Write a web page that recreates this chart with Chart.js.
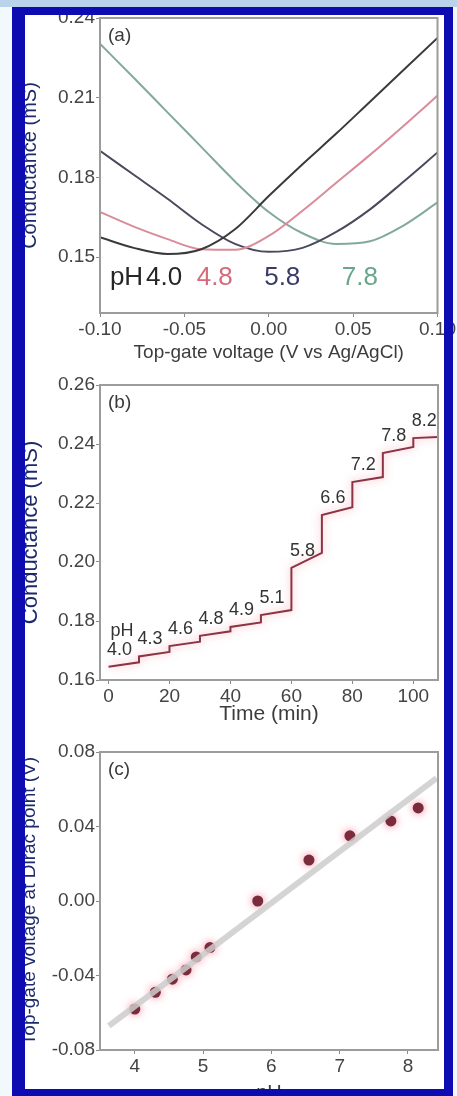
<!DOCTYPE html>
<html>
<head>
<meta charset="utf-8">
<script src="https://cdn.jsdelivr.net/npm/chart.js@4/dist/chart.umd.min.js"></script>
<style>
  html, body { margin: 0; padding: 0; }
  body { width: 457px; height: 1096px; position: relative; overflow: hidden; background: #f2f9fd; }
  #strip { position: absolute; left: 0; top: 0; width: 457px; height: 7px; background: #bad3ea; }
  #sheet { position: absolute; left: 12px; top: 7px; width: 441px; height: 1089px; background: #fff; }
  #edge { position: absolute; left: 12px; top: 7px; width: 441px; height: 1089px; box-sizing: border-box;
          border: solid #0c0cb2; border-width: 8px 9px 7px 13px; pointer-events: none; }
  canvas { position: absolute; left: 0; }
</style>
</head>
<body>
<div id="strip"></div>
<div id="sheet"></div>
<canvas id="chart-a" width="457" height="362" style="top:0"></canvas>
<canvas id="chart-b" width="457" height="366" style="top:362px"></canvas>
<canvas id="chart-c" width="457" height="375" style="top:728px"></canvas>
<div id="edge"></div>
<script>
// (a) conductance vs top-gate voltage, one curve per pH
const gateV = [-0.10, -0.08, -0.06, -0.04, -0.02, 0.00, 0.02, 0.04, 0.06, 0.08, 0.10];
const gPH40 = [0.1575, 0.1535, 0.1512, 0.1530, 0.1605, 0.1730, 0.1850, 0.1965, 0.2085, 0.2205, 0.2325];
const gPH48 = [0.1670, 0.1615, 0.1568, 0.1530, 0.1528, 0.1580, 0.1675, 0.1780, 0.1885, 0.1995, 0.2108];
const gPH58 = [0.1900, 0.1810, 0.1720, 0.1625, 0.1550, 0.1520, 0.1535, 0.1595, 0.1680, 0.1785, 0.1894];
const gPH78 = [0.2303, 0.2175, 0.2045, 0.1915, 0.1785, 0.1670, 0.1590, 0.1550, 0.1560, 0.1620, 0.1706];
const curvePH = ['4.0', '4.8', '5.8', '7.8'];
const ticksVa = [-0.10, -0.05, 0.00, 0.05, 0.10];
const ticksGa = [0.15, 0.18, 0.21, 0.24];

// (b) conductance while stepping the pH, one plateau per step
const stepPH = ['4.0', '4.3', '4.6', '4.8', '4.9', '5.1', '5.8', '6.6', '7.2', '7.8', '8.2'];
const stepStart = [0, 10, 20, 30, 40, 50, 60, 70, 80, 90, 100];
const stepEnd = [10, 20, 30, 40, 50, 60, 70, 80, 90, 100, 108];
const gStart = [0.1645, 0.1680, 0.1715, 0.1750, 0.1780, 0.1820, 0.1980, 0.2159, 0.2271, 0.2369, 0.2420];
const gEnd = [0.1660, 0.1695, 0.1730, 0.1765, 0.1795, 0.1837, 0.2031, 0.2186, 0.2288, 0.2390, 0.2424];
const ticksT = [0, 20, 40, 60, 80, 100];
const ticksGb = [0.16, 0.18, 0.20, 0.22, 0.24, 0.26];

// (c) top-gate voltage at the conductance minimum vs pH
const phPoints = [4.0, 4.3, 4.55, 4.75, 4.9, 5.1, 5.8, 6.55, 7.15, 7.75, 8.15];
const minV = [-0.058, -0.049, -0.042, -0.037, -0.030, -0.025, 0.000, 0.022, 0.035, 0.043, 0.050];
const fitPH = [3.62, 8.42];
const fitV = [-0.067, 0.066];
const ticksPH = [4, 5, 6, 7, 8];
const ticksVc = [-0.08, -0.04, 0.00, 0.04, 0.08];

const FONT = "'Liberation Sans', Arial, sans-serif";
const pts = (xs, ys) => xs.map((x, i) => ({ x: x, y: ys[i] }));

// label positions for panel (a), in volts
const phLabelAt = [-0.062, -0.032, 0.008, 0.054];
const phLabelColor = ['#262626', '#d46a7c', '#3b3b68', '#6aa68c'];

function axisX(min, max, tickVals, fmt, title, height, titlePad, titleSize) {
  return {
    type: 'linear', min: min, max: max,
    afterBuildTicks: s => { s.ticks = tickVals.map(v => ({ value: v })); },
    afterFit: s => { s.height = height; },
    ticks: { callback: fmt, color: '#444', font: { family: FONT, size: 19 }, padding: 1, maxRotation: 0, autoSkip: false },
    grid: { drawOnChartArea: false, tickLength: 4, color: '#8a8a8a' },
    border: { color: '#999', width: 2 },
    title: { display: true, text: title, color: '#3c3c3c', font: { family: FONT, size: titleSize, lineHeight: 1 },
             padding: { top: 0, bottom: titlePad } }
  };
}

function axisY(min, max, tickVals, fmt, title, titleSize, titleColor) {
  return {
    type: 'linear', min: min, max: max,
    afterBuildTicks: s => { s.ticks = tickVals.map(v => ({ value: v })); },
    afterFit: s => { s.width = 100; },
    ticks: { callback: fmt, color: '#444', font: { family: FONT, size: 19 }, padding: 1, autoSkip: false },
    grid: { drawOnChartArea: false, tickLength: 4, color: '#8a8a8a' },
    border: { color: '#999', width: 2 },
    title: { display: true, text: title, color: titleColor, font: { family: FONT, size: titleSize, lineHeight: 1 },
             padding: { top: 20, bottom: 0 } }
  };
}

// soft halo behind a dataset
const glow = {
  id: 'glow',
  beforeDatasetDraw(chart, args) {
    const ds = chart.data.datasets[args.index];
    if (!ds.glow) return;
    chart.ctx.save();
    chart.ctx.shadowColor = ds.glow;
    chart.ctx.shadowBlur = 8;
  },
  afterDatasetDraw(chart, args) {
    if (chart.data.datasets[args.index].glow) chart.ctx.restore();
  }
};

// box around the plot area plus the panel letter
const frame = {
  id: 'frame',
  afterDraw(chart, args, opts) {
    const { ctx, chartArea: a } = chart;
    ctx.save();
    ctx.strokeStyle = '#9c9c9c';
    ctx.lineWidth = 2;
    ctx.strokeRect(a.left, a.top, a.right - a.left, a.bottom - a.top);
    ctx.fillStyle = '#3a3a3a';
    ctx.font = '19px ' + FONT;
    ctx.textBaseline = 'middle';
    ctx.fillText(opts.tag, a.left + 8, a.top + 18);
    ctx.restore();
  }
};

const base = (padTop) => ({
  responsive: false, animation: false, devicePixelRatio: 1,
  layout: { padding: { left: 0, right: 19, top: padTop, bottom: 0 } },
  plugins: { legend: { display: false }, tooltip: { enabled: false } }
});

// ---- (a)
const curveLabels = {
  id: 'curveLabels',
  afterDatasetsDraw(chart) {
    const { ctx, chartArea: a, scales: { x } } = chart;
    ctx.save();
    ctx.font = '26px ' + FONT;
    ctx.textBaseline = 'middle';
    ctx.textAlign = 'center';
    const y = a.bottom - 35;
    curvePH.forEach((t, i) => {
      ctx.fillStyle = phLabelColor[i];
      ctx.fillText(t, x.getPixelForValue(phLabelAt[i]), y);
    });
    ctx.fillStyle = phLabelColor[0];
    ctx.textAlign = 'right';
    ctx.fillText('pH', x.getPixelForValue(phLabelAt[0]) - 21, y);
    ctx.restore();
  }
};

const fmt2 = v => v.toFixed(2);
const optsA = base(18);
optsA.scales = {
  x: axisX(-0.10, 0.10, ticksVa, fmt2, 'Top-gate voltage (V vs Ag/AgCl)', 49, 0, 19),
  y: axisY(0.129, 0.24, ticksGa, fmt2, 'Conductance (mS)', 20, '#1c2a6a')
};
optsA.plugins.frame = { tag: '(a)' };

const lineA = (data, color) => ({ data: data, borderColor: color, borderWidth: 2, pointRadius: 0,
  tension: 0.4, cubicInterpolationMode: 'monotone', fill: false });

new Chart(document.getElementById('chart-a'), {
  type: 'line',
  data: { datasets: [
    lineA(pts(gateV, gPH40), '#3a3a3a'),
    lineA(pts(gateV, gPH48), '#d98c9a'),
    lineA(pts(gateV, gPH58), '#4a4a5e'),
    lineA(pts(gateV, gPH78), '#82aa9a')
  ] },
  options: optsA,
  plugins: [frame, curveLabels]
});

// ---- (b)
const stairs = [];
stepPH.forEach((p, i) => {
  stairs.push({ x: stepStart[i], y: gStart[i] });
  stairs.push({ x: stepEnd[i], y: gEnd[i] });
});

const stepLabels = {
  id: 'stepLabels',
  afterDatasetsDraw(chart) {
    const { ctx, scales: { x, y } } = chart;
    ctx.save();
    ctx.font = '18px ' + FONT;
    ctx.textBaseline = 'middle';
    ctx.textAlign = 'center';
    ctx.fillStyle = '#333';
    stepPH.forEach((t, i) => {
      ctx.fillText(t, x.getPixelForValue(stepStart[i]) + 11, y.getPixelForValue(gStart[i]) - 17);
    });
    ctx.textAlign = 'left';
    ctx.fillText('pH', x.getPixelForValue(stepStart[0]) + 2, y.getPixelForValue(gStart[0]) - 36);
    ctx.restore();
  }
};

const optsB = base(23);
optsB.scales = {
  x: axisX(-2.8, 108.1, ticksT, v => String(v), 'Time (min)', 48, 3, 21),
  y: axisY(0.16, 0.26, ticksGb, fmt2, 'Conductance (mS)', 22, '#1c2a6a')
};
optsB.plugins.frame = { tag: '(b)' };

new Chart(document.getElementById('chart-b'), {
  type: 'line',
  data: { datasets: [
    { data: stairs, borderColor: '#8c3444', borderWidth: 2, pointRadius: 0, tension: 0, fill: false,
      glow: 'rgba(240,120,140,0.7)' }
  ] },
  options: optsB,
  plugins: [glow, frame, stepLabels]
});

// ---- (c)
const optsC = base(24);
optsC.scales = {
  x: axisX(3.49, 8.44, ticksPH, v => String(v), 'pH', 53, 0, 20),
  y: axisY(-0.08, 0.08, ticksVc, fmt2, 'Top-gate voltage at Dirac point (V)', 19, '#1c2a6a')
};
optsC.plugins.frame = { tag: '(c)' };

new Chart(document.getElementById('chart-c'), {
  type: 'scatter',
  data: { datasets: [
    { type: 'line', data: pts(fitPH, fitV), borderColor: 'rgba(205,205,205,0.85)', borderWidth: 6,
      pointRadius: 0, fill: false },
    { data: pts(phPoints, minV), backgroundColor: '#7a2c3c', borderWidth: 0, pointRadius: 5.5,
      glow: 'rgba(245,120,145,0.95)' }
  ] },
  options: optsC,
  plugins: [glow, frame]
});
</script>
</body>
</html>
